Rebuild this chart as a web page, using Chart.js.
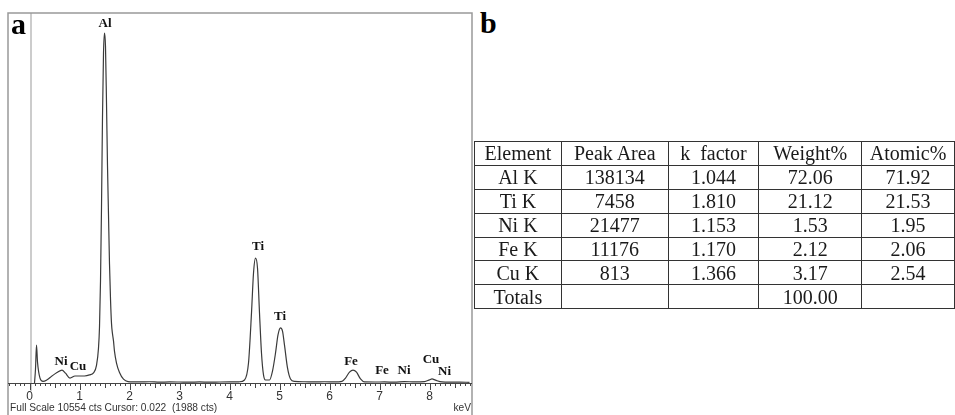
<!DOCTYPE html>
<html>
<head>
<meta charset="utf-8">
<script src="https://cdn.jsdelivr.net/npm/chart.js@4.4.1/dist/chart.umd.min.js"></script>
<style>
  body { margin: 0; background: #fff; width: 955px; height: 415px; overflow: hidden; position: relative; }
  #spectrum { position: absolute; left: 0; top: 0; }
  #tag-b { position: absolute; left: 480px; top: 6px; font: bold 30px "Liberation Serif", serif; color: #000; }
  table { position: absolute; left: 474px; top: 141px; border-collapse: collapse; font: 20px "Liberation Serif", serif; color: #1a1a1a; }
  td { border: 1px solid #333; text-align: center; height: 22.9px; padding: 0; line-height: 22px; white-space: pre; }
</style>
</head>
<body>
<canvas id="spectrum" width="480" height="415"></canvas>
<div id="tag-b">b</div>
<table id="quant"></table>
<script>
// EDS spectrum, energy in keV / counts
const energy = [0.10, 0.12, 0.14, 0.16, 0.21, 0.27, 0.35, 0.45, 0.55, 0.65, 0.72, 0.81, 0.91, 1.00, 1.10, 1.20, 1.28,
  1.34, 1.38, 1.40, 1.42, 1.44, 1.46, 1.48, 1.50, 1.52, 1.54, 1.56, 1.58, 1.60, 1.62, 1.64, 1.66, 1.68, 1.70, 1.74, 1.80, 1.88, 1.97,
  2.2, 2.4, 2.6, 2.8, 3.0, 3.2, 3.4, 3.6, 3.8, 4.0, 4.2,
  4.30, 4.38, 4.44, 4.48, 4.52, 4.56, 4.60, 4.64, 4.68, 4.72, 4.80, 4.86, 4.92, 4.97, 5.02, 5.06, 5.10, 5.16, 5.22, 5.30,
  5.5, 5.7, 5.9, 6.1, 6.25, 6.32, 6.40, 6.47, 6.54, 6.62, 6.70, 6.9, 7.1, 7.3, 7.5, 7.7, 7.9,
  8.00, 8.05, 8.12, 8.25, 8.4, 8.6, 8.8];
const counts = [0, 400, 1080, 600, 140, 45, 90, 200, 300, 370, 280, 140, 200, 200, 200, 230, 290,
  500, 1000, 1600, 2900, 5000, 7600, 9400, 9980, 9600, 8000, 6200, 4800, 3400, 2400, 1700, 1400, 1200, 900, 570, 300, 110, 40,
  30, 35, 25, 30, 28, 25, 30, 25, 28, 30, 35,
  85, 570, 2000, 3130, 3560, 3280, 2000, 850, 230, 85, 85, 340, 850, 1370, 1570, 1480, 1080, 430, 115, 45,
  35, 30, 35, 30, 45, 140, 310, 370, 310, 115, 30, 28, 30, 25, 40, 30, 40,
  90, 115, 80, 30, 25, 25, 20];

const fullScale = 10554;
const tickLabels = ['0', '1', '2', '3', '4', '5', '6', '7', '8'];

// peak labels: text, keV, counts
const peakText = ['Al', 'Ni', 'Cu', 'Ti', 'Ti', 'Fe', 'Fe', 'Ni', 'Cu', 'Ni'];
const peakKeV = [1.51, 0.63, 0.97, 4.57, 5.01, 6.43, 7.05, 7.49, 8.03, 8.30];
const peakCts = [10240, 600, 456, 3880, 1880, 600, 342, 342, 656, 314];

// quantification table
const tableHead = ['Element', 'Peak Area', 'k  factor', 'Weight%', 'Atomic%'];
const elements = ['Al K', 'Ti K', 'Ni K', 'Fe K', 'Cu K', 'Totals'];
const peakArea = ['138134', '7458', '21477', '11176', '813', ''];
const kFactor = ['1.044', '1.810', '1.153', '1.170', '1.366', ''];
const weightPct = ['72.06', '21.12', '1.53', '2.12', '3.17', '100.00'];
const atomicPct = ['71.92', '21.53', '1.95', '2.06', '2.54', ''];
const colWidths = [86, 106, 90, 102, 92];

// build the table
const tbl = document.getElementById('quant');
const rows = [tableHead];
elements.forEach((e, i) => rows.push([e, peakArea[i], kFactor[i], weightPct[i], atomicPct[i]]));
rows.forEach(r => {
  const tr = document.createElement('tr');
  r.forEach((c, j) => {
    const td = document.createElement('td');
    td.style.width = colWidths[j] + 'px';
    td.textContent = c;
    tr.appendChild(td);
  });
  tbl.appendChild(tr);
});

const decor = {
  id: 'decor',
  afterDraw(chart) {
    const ctx = chart.ctx;
    const xs = chart.scales.x, ys = chart.scales.y;
    const area = chart.chartArea;
    ctx.save();

    // frame
    ctx.strokeStyle = '#999';
    ctx.lineWidth = 1.5;
    ctx.beginPath();
    ctx.moveTo(area.left, 415);
    ctx.lineTo(area.left, area.top);
    ctx.lineTo(area.right, area.top);
    ctx.lineTo(area.right, 415);
    ctx.stroke();

    // zero line
    const x0 = xs.getPixelForValue(0.03);
    ctx.lineWidth = 1;
    ctx.beginPath();
    ctx.moveTo(x0, area.top);
    ctx.lineTo(x0, area.bottom + 8);
    ctx.stroke();

    // axis and ticks
    ctx.strokeStyle = '#444';
    ctx.beginPath();
    ctx.moveTo(area.left, area.bottom + 0.5);
    ctx.lineTo(area.right, area.bottom + 0.5);
    ctx.stroke();
    ctx.beginPath();
    for (let i = -4; i <= 88; i++) {
      const px = Math.round(xs.getPixelForValue(i / 10)) + 0.5;
      const len = i % 10 === 0 ? 7 : (i % 5 === 0 ? 5 : 3);
      ctx.moveTo(px, area.bottom);
      ctx.lineTo(px, area.bottom + len);
    }
    ctx.stroke();

    ctx.fillStyle = '#333';
    ctx.font = '12px "Liberation Sans", Arial, sans-serif';
    ctx.textAlign = 'center';
    ctx.textBaseline = 'middle';
    tickLabels.forEach(t => ctx.fillText(t, xs.getPixelForValue(Number(t)), 397));

    ctx.font = '10.2px "Liberation Sans", Arial, sans-serif';
    ctx.textAlign = 'left';
    ctx.fillText('Full Scale 10554 cts Cursor: 0.022  (1988 cts)', 10, 408);
    ctx.textAlign = 'right';
    ctx.fillText('keV', 471, 408);

    // element labels
    ctx.fillStyle = '#111';
    ctx.font = 'bold 13px "Liberation Serif", serif';
    ctx.textAlign = 'center';
    peakText.forEach((t, i) => {
      ctx.fillText(t, xs.getPixelForValue(peakKeV[i]), ys.getPixelForValue(peakCts[i]));
    });

    // panel tag
    ctx.fillStyle = '#000';
    ctx.font = 'bold 30px "Liberation Serif", serif';
    ctx.textAlign = 'left';
    ctx.textBaseline = 'alphabetic';
    ctx.fillText('a', 11, 34);
    ctx.restore();
  }
};

new Chart(document.getElementById('spectrum'), {
  type: 'line',
  data: {
    datasets: [{
      data: energy.map((e, i) => ({ x: e, y: counts[i] })),
      borderColor: '#3a3a3a',
      borderWidth: 1.2,
      pointRadius: 0,
      tension: 0.4,
      cubicInterpolationMode: 'monotone',
      fill: false
    }]
  },
  options: {
    responsive: false,
    animation: false,
    devicePixelRatio: 1,
    layout: { padding: { left: 8, right: 8, top: 13, bottom: 32 } },
    plugins: { legend: { display: false }, tooltip: { enabled: false } },
    scales: {
      x: { type: 'linear', min: -0.43, max: 8.85, display: false },
      y: { min: 0, max: fullScale, display: false }
    }
  },
  plugins: [decor]
});
</script>
</body>
</html>
